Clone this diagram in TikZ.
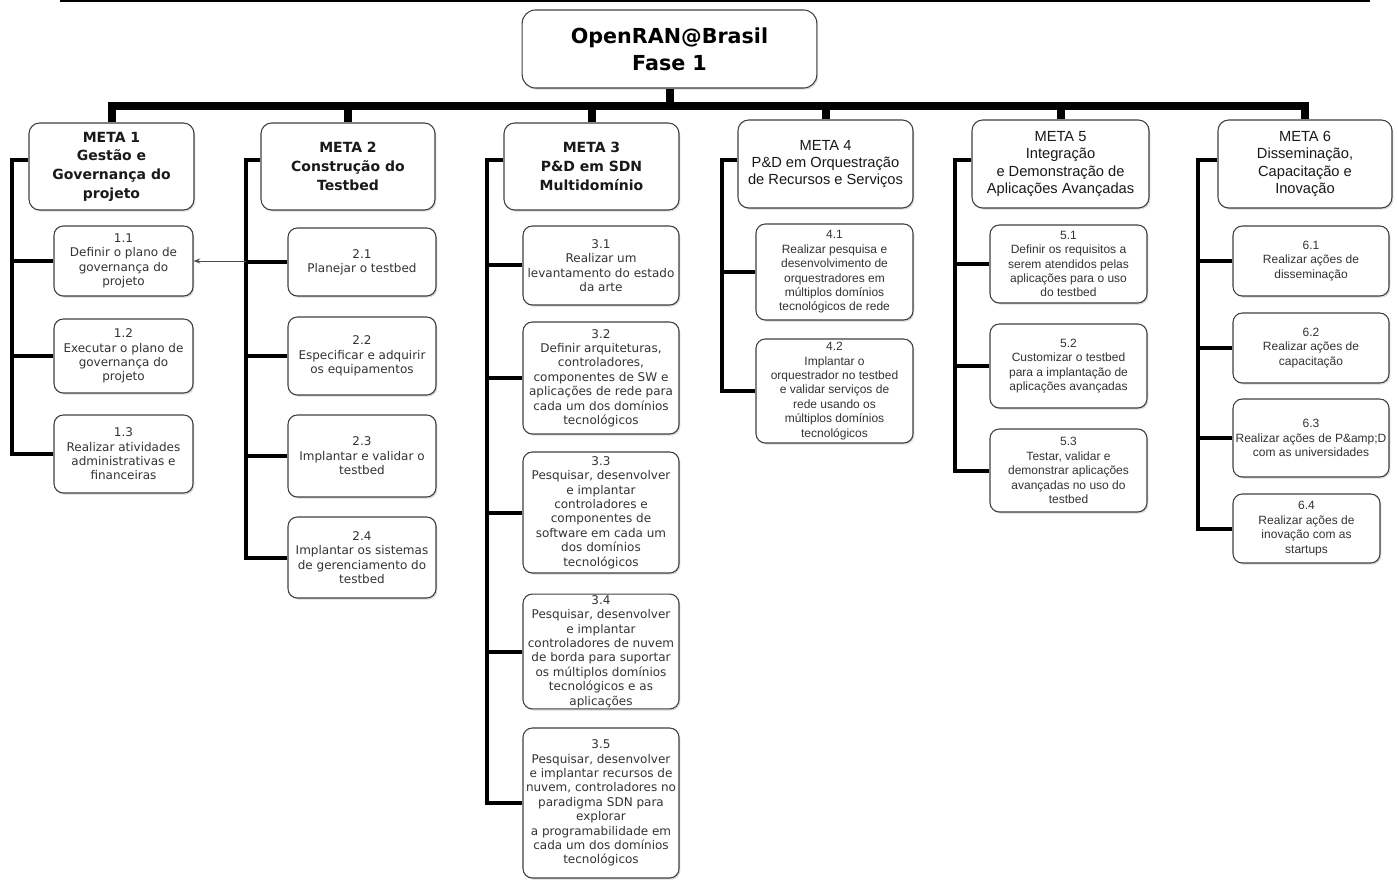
\documentclass[tikz,border=0pt]{standalone}
\usepackage{fontspec}
\setmainfont{DejaVu Sans}
\newfontfamily\arialfont{Liberation Sans}
\usetikzlibrary{shadows,arrows.meta}

\begin{document}
\begin{tikzpicture}[x=0.75pt,y=-0.75pt,
  box/.style={draw=black!75, line width=0.8pt, rounded corners=8pt, fill=white, align=center, inner sep=1pt, text=black!80,
    drop shadow={opacity=0.3, shadow xshift=1pt, shadow yshift=-1.2pt}},
  meta/.style={box, font=\fontsize{10.5}{14}\selectfont\bfseries, text=black!90},
  metab/.style={box, font=\arialfont\fontsize{11}{13}\selectfont, text=black!90},
  task/.style={box, rounded corners=7pt, font=\fontsize{9}{10.8}\selectfont},
  taskb/.style={box, rounded corners=7pt, font=\arialfont\fontsize{9}{10.8}\selectfont},
  bus/.style={line width=6pt},
  branch/.style={line width=3pt}]
\useasboundingbox (0,0) rectangle (1398,880);
\draw[line width=1.5pt] (60,1)--(1370,1);

\node (root) at (669.5,49) [box, rounded corners=10pt, minimum width=221pt, minimum height=58.5pt, font=\fontsize{15.5}{20}\selectfont\bfseries, text=black]{OpenRAN@Brasil\\Fase 1};

\node (m1) at (111.5,166.5) [meta, minimum width=123.75pt, minimum height=65.25pt]{META 1\\Gestão e\\Governança do\\projeto};
\node (m2) at (348,166.5) [meta, minimum width=130.5pt, minimum height=65.25pt]{META 2\\Construção do\\Testbed};
\node (m3) at (591.5,166.5) [meta, minimum width=131.25pt, minimum height=65.25pt]{META 3\\P\&D em SDN\\Multidomínio};
\node (m4) at (825.5,164) [metab, minimum width=131.25pt, minimum height=66pt]{META 4\\P\&D em Orquestração\\de Recursos e Serviços};
\node (m5) at (1060.5,164) [metab, minimum width=132.75pt, minimum height=66pt]{META 5\\Integração\\e Demonstração de\\Aplicações Avançadas};
\node (m6) at (1305,164) [metab, minimum width=130.5pt, minimum height=66pt]{META 6\\Disseminação,\\Capacitação e\\Inovação};

\node (t11) at (123.5,261) [task, minimum width=104.25pt, minimum height=52.5pt]{1.1\\Definir o plano de\\governança do\\projeto};
\node (t12) at (123.5,356) [task, minimum width=104.25pt, minimum height=55.5pt]{1.2\\Executar o plano de\\governança do\\projeto};
\node (t13) at (123.5,454) [task, minimum width=104.25pt, minimum height=58.5pt]{1.3\\Realizar atividades\\administrativas e\\financeiras};

\node (t21) at (362,262) [task, minimum width=111pt, minimum height=51pt]{2.1\\Planejar o testbed};
\node (t22) at (362,356) [task, minimum width=111pt, minimum height=58.5pt]{2.2\\Especificar e adquirir\\os equipamentos};
\node (t23) at (362,456) [task, minimum width=111pt, minimum height=61.5pt]{2.3\\Implantar e validar o\\testbed};
\node (t24) at (362,557.5) [task, minimum width=111pt, minimum height=60.75pt]{2.4\\Implantar os sistemas\\de gerenciamento do\\testbed};

\node (t31) at (601,265.5) [task, minimum width=117pt, minimum height=59.25pt]{3.1\\Realizar um\\levantamento do estado\\da arte};
\node (t32) at (601,378) [task, minimum width=117pt, minimum height=84pt]{3.2\\Definir arquiteturas,\\controladores,\\componentes de SW e\\aplicações de rede para\\cada um dos domínios\\tecnológicos};
\node (t33) at (601,512.5) [task, minimum width=117pt, minimum height=90.75pt]{3.3\\Pesquisar, desenvolver\\e implantar\\controladores e\\componentes de\\software em cada um\\dos domínios\\tecnológicos};
\node (t34) at (601,651.5) [task, minimum width=117pt, minimum height=84.75pt]{3.4\\Pesquisar, desenvolver\\e implantar\\controladores de nuvem\\de borda para suportar\\os múltiplos domínios\\tecnológicos e as\\aplicações};
\node (t35) at (601,803) [task, minimum width=117pt, minimum height=112.5pt]{3.5\\Pesquisar, desenvolver\\e implantar recursos de\\nuvem, controladores no\\paradigma SDN para\\explorar\\a programabilidade em\\cada um dos domínios\\tecnológicos};

\node (t41) at (834.5,272) [taskb, minimum width=117.75pt, minimum height=72pt]{4.1\\Realizar pesquisa e\\desenvolvimento de\\orquestradores em\\múltiplos domínios\\tecnológicos de rede};
\node (t42) at (834.5,391) [taskb, minimum width=117.75pt, minimum height=78pt]{4.2\\Implantar o\\orquestrador no testbed\\e validar serviços de\\rede usando os\\múltiplos domínios\\tecnológicos};

\node (t51) at (1068.5,264) [taskb, minimum width=117.75pt, minimum height=58.5pt]{5.1\\Definir os requisitos a\\serem atendidos pelas\\aplicações para o uso\\do testbed};
\node (t52) at (1068.5,366) [taskb, minimum width=117.75pt, minimum height=63pt]{5.2\\Customizar o testbed\\para a implantação de\\aplicações avançadas};
\node (t53) at (1068.5,470.5) [taskb, minimum width=117.75pt, minimum height=62.25pt]{5.3\\Testar, validar e\\demonstrar aplicações\\avançadas no uso do\\testbed};

\node (t61) at (1311,261) [taskb, minimum width=117pt, minimum height=52.5pt]{6.1\\Realizar ações de\\disseminação};
\node (t62) at (1311,348) [taskb, minimum width=117pt, minimum height=52.5pt]{6.2\\Realizar ações de\\capacitação};
\node (t63) at (1311,438) [taskb, minimum width=117pt, minimum height=58.5pt]{6.3\\Realizar ações de P\&amp;D\\com as universidades};
\node (t64) at (1306.5,528.5) [taskb, minimum width=110.25pt, minimum height=51.75pt]{6.4\\Realizar ações de\\inovação com as\\startups};

\coordinate (bus) at (0,106);
\coordinate (stub) at (0,160);
\coordinate (s1) at (12,0);
\coordinate (s2) at (246,0);
\coordinate (s3) at (487,0);
\coordinate (s4) at (722,0);
\coordinate (s5) at (955,0);
\coordinate (s6) at (1198,0);

\draw[bus] (root.south)--(root.south |- bus);
\draw[bus] (m1.north) |- (bus -| m6.north)--(m6.north);
\foreach \m in {m2,m3,m4,m5}
  \draw[bus] (\m.north)--(\m.north |- bus);

\draw[branch] (m1.west |- stub) -| (s1 |- t13)--(t13);
\draw[branch] (m2.west |- stub) -| (s2 |- t24)--(t24);
\draw[branch] (m3.west |- stub) -| (s3 |- t35)--(t35);
\draw[branch] (m4.west |- stub) -| (s4 |- t42)--(t42);
\draw[branch] (m5.west |- stub) -| (s5 |- t53)--(t53);
\draw[branch] (m6.west |- stub) -| (s6 |- t64)--(t64);
\foreach \t/\s in {t11/s1,t12/s1,t21/s2,t22/s2,t23/s2,t31/s3,t32/s3,t33/s3,t34/s3,t41/s4,t51/s5,t52/s5,t61/s6,t62/s6,t63/s6}
  \draw[branch] (\s |- \t)--(\t);

\draw[-{Stealth[length=5pt]}, black!70, line width=0.6pt] (s2 |- t11.east)--(t11.east);
\end{tikzpicture}
\end{document}
